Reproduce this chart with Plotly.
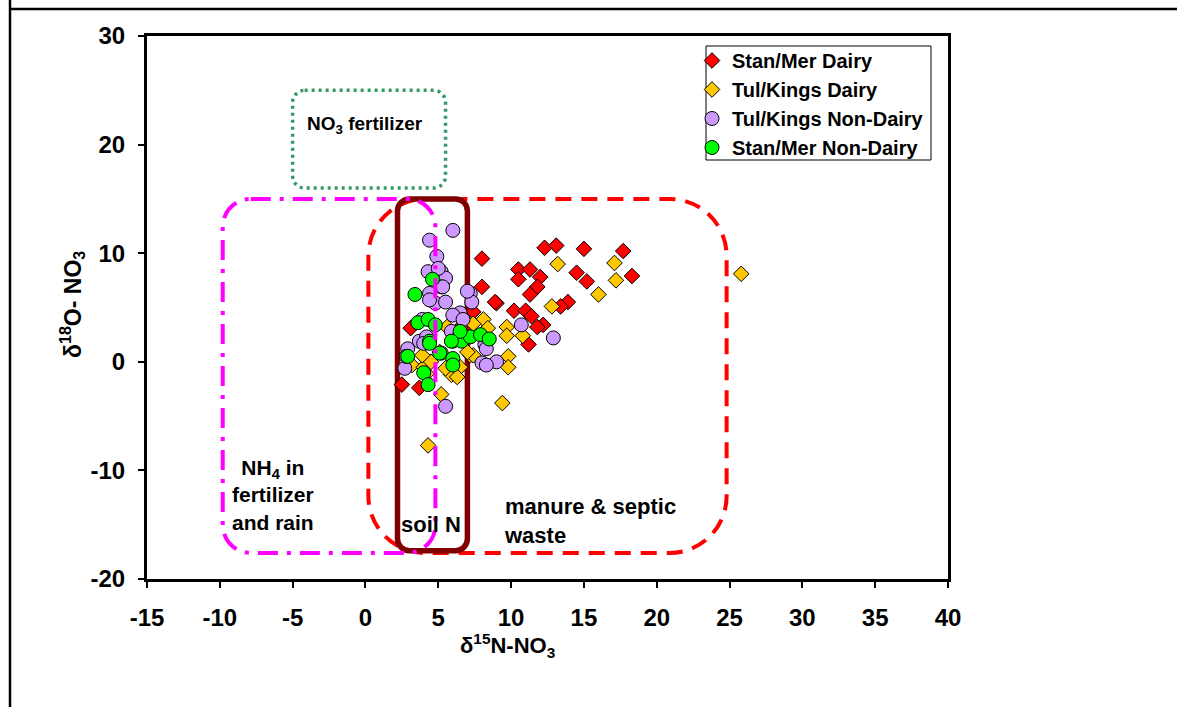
import plotly.graph_objects as go

# ---------------- data ----------------
stan_mer_dairy_x = [8.0, 12.3, 13.1, 15.0, 17.7, 10.5, 11.3, 12.0, 10.5, 14.5, 15.2, 18.3, 8.0, 11.8, 11.3,
                    9.0, 8.9, 13.9, 13.4, 10.2, 11.0, 11.4, 12.2, 11.8, 11.2, 3.1, 2.5, 3.7, 7.2, 7.4, 6.6]
stan_mer_dairy_y = [9.5, 10.5, 10.7, 10.4, 10.2, 8.5, 8.5, 7.8, 7.6, 8.2, 7.4, 7.9, 6.9, 6.9, 6.2,
                    5.4, 5.5, 5.5, 5.1, 4.7, 4.7, 4.2, 3.4, 3.2, 1.6, 3.1, -2.1, -2.4, 2.9, 4.6, 3.3]

tul_kings_dairy_x = [13.2, 17.1, 17.2, 16.0, 25.8, 12.8, 8.1, 9.7, 9.7, 10.8, 8.4, 9.8, 9.8, 9.4, 7.2, 4.3,
                     5.2, 5.9, 3.2, 4.0, 4.5, 7.4, 7.4, 6.5, 6.3, 3.9, 5.6, 7.0, 4.2, 5.5, 5.1]
tul_kings_dairy_y = [9.0, 9.1, 7.5, 6.2, 8.1, 5.1, 3.9, 3.2, 2.4, 2.4, 3.1, 0.5, -0.5, -3.8, 0.6, -7.7,
                     -3.0, -1.2, -0.3, -0.5, 0.0, 0.6, 3.5, -0.5, -1.4, 0.6, 3.2, 0.9, -1.1, -0.6, 0.9]

tul_kings_nondairy_x = [6.0, 4.4, 4.9, 4.3, 5.2, 5.5, 5.2, 4.4, 4.8, 5.5, 6.5, 6.0, 7.2, 7.3, 3.7, 4.2, 2.9, 8.2,
                        8.0, 9.0, 2.7, 5.5, 10.7, 12.9, 5.3, 7.0, 4.4, 5.0, 8.3, 8.3, 6.5, 6.7, 5.9, 3.9, 4.0, 2.8]
tul_kings_nondairy_y = [12.1, 11.2, 9.7, 8.3, 8.3, 7.7, 6.9, 6.3, 5.4, 5.5, 4.5, 4.3, 6.3, 5.5, 1.9, 2.3, 1.2, 1.6,
                        -0.1, 0.0, -0.6, -4.1, 3.4, 2.2, 6.9, 6.5, 5.7, 8.6, 1.2, -0.3, 2.3, 3.9, 2.8, 3.9, 1.7, 0.5]

stan_mer_nondairy_x = [4.6, 3.4, 3.6, 4.3, 4.8, 4.4, 5.2, 6.0, 6.6, 7.2, 7.9, 8.5, 6.0, 6.0, 2.9, 4.0, 4.3,
                       6.5, 4.4, 5.1, 5.9]
stan_mer_nondairy_y = [7.6, 6.2, 3.6, 3.9, 3.4, 1.9, 0.8, 1.9, 1.9, 2.3, 2.5, 2.1, 0.3, -0.3, 0.5, -1.0, -2.1,
                       2.8, 1.7, 0.8, 1.9]

x_ticks = [-15, -10, -5, 0, 5, 10, 15, 20, 25, 30, 35, 40]
y_ticks = [-20, -10, 0, 10, 20, 30]

# ---------------- layout geometry ----------------
W, H = 1177, 707
ML, MR, MT, MB = 147, 229, 36, 128
PW, PH = W - ML - MR, H - MT - MB
XR, YR = (-15, 40), (-20, 30)
SX = PW / (XR[1] - XR[0])
SY = PH / (YR[1] - YR[0])

FONT = "Liberation Sans, Arial, sans-serif"


def px_x(p):
    return (p - ML) / PW


def px_y(p):
    return 1 - (p - MT) / PH


def rrect(x0, x1, y0, y1, r_px):
    rx, ry = r_px / SX, r_px / SY
    k = 0.5523
    p = []
    p.append(f"M {x0 + rx},{y1}")
    p.append(f"L {x1 - rx},{y1}")
    p.append(f"C {x1 - rx + k * rx},{y1} {x1},{y1 - ry + k * ry} {x1},{y1 - ry}")
    p.append(f"L {x1},{y0 + ry}")
    p.append(f"C {x1},{y0 + ry - k * ry} {x1 - rx + k * rx},{y0} {x1 - rx},{y0}")
    p.append(f"L {x0 + rx},{y0}")
    p.append(f"C {x0 + rx - k * rx},{y0} {x0},{y0 + ry - k * ry} {x0},{y0 + ry}")
    p.append(f"L {x0},{y1 - ry}")
    p.append(f"C {x0},{y1 - ry + k * ry} {x0 + rx - k * rx},{y1} {x0 + rx},{y1}")
    p.append("Z")
    return " ".join(p)


fig = go.Figure()

series = [
    ("Stan/Mer Dairy", stan_mer_dairy_x, stan_mer_dairy_y, "diamond", "#FF0000", 12),
    ("Tul/Kings Dairy", tul_kings_dairy_x, tul_kings_dairy_y, "diamond", "#FFC800", 12),
    ("Tul/Kings Non-Dairy", tul_kings_nondairy_x, tul_kings_nondairy_y, "circle", "#CC99FF", 14),
    ("Stan/Mer Non-Dairy", stan_mer_nondairy_x, stan_mer_nondairy_y, "circle", "#00FF00", 14),
]
for name, xs, ys, sym, col, sz in series:
    fig.add_trace(go.Scatter(
        x=xs, y=ys, mode="markers", name=name, legendgroup=name,
        marker=dict(symbol=sym, color=col, size=sz, line=dict(color="black", width=1)),
    ))

shapes = [
    # NO3 fertilizer (green dotted)
    dict(type="path", path=rrect(-5.0, 5.5, 16.0, 25.0, 12), layer="below",
         line=dict(color="#339966", width=3.5, dash="3px,4px")),
    # manure & septic (red dashed)
    dict(type="path", path=rrect(0.2, 24.8, -17.6, 15.0, 57), layer="below",
         line=dict(color="#FF0000", width=4, dash="16px,10px")),
    # soil N (maroon)
    dict(type="path", path=rrect(2.2, 7.0, -17.4, 15.0, 12), layer="below",
         line=dict(color="#800000", width=5.5)),
    # NH4 (magenta dash-dot)
    dict(type="path", path=rrect(-9.8, 4.8, -17.6, 15.0, 28), layer="above",
         line=dict(color="#FF00FF", width=4, dash="20px,9px,4px,9px")),
    # legend frame
    dict(type="rect", xref="paper", yref="paper", layer="above",
         x0=px_x(706), x1=px_x(931), y0=px_y(160), y1=px_y(46),
         line=dict(color="black", width=1), fillcolor="rgba(0,0,0,0)"),
    # page borders
    dict(type="line", xref="paper", yref="paper",
         x0=px_x(10), x1=px_x(W), y0=px_y(9), y1=px_y(9),
         line=dict(color="black", width=2.5)),
    dict(type="line", xref="paper", yref="paper",
         x0=px_x(10), x1=px_x(10), y0=px_y(0), y1=px_y(H),
         line=dict(color="black", width=2.5)),
]

annos = [
    dict(x=0.0, y=21.8, text="NO<sub>3</sub> fertilizer", showarrow=False,
         font=dict(size=19, color="black", family=FONT)),
    dict(x=-6.35, y=-12.3, text="NH<sub>4</sub> in<br>fertilizer<br>and rain", showarrow=False,
         align="center", font=dict(size=21, color="black", family=FONT)),
    dict(x=4.5, y=-15.0, text="soil N", showarrow=False,
         font=dict(size=22, color="black", family=FONT)),
    dict(x=9.4, y=-14.7, text="manure &amp; septic<br>waste", showarrow=False, xanchor="left",
         align="left", font=dict(size=22, color="black", family=FONT)),
    dict(xref="paper", yref="paper", x=px_x(507), y=px_y(645), xanchor="center", yanchor="middle",
         text="δ<sup>15</sup>N-NO<sub>3</sub>", showarrow=False,
         font=dict(size=22, color="black", family=FONT)),
    dict(xref="paper", yref="paper", x=px_x(72), y=px_y(305), xanchor="center", yanchor="middle",
         text="δ<sup>18</sup>O- NO<sub>3</sub>", showarrow=False, textangle=-90,
         font=dict(size=23, color="black", family=FONT)),
]
for a in annos:
    a["text"] = "<b>" + a["text"] + "</b>"

fig.update_layout(
    width=W, height=H,
    margin=dict(l=ML, r=MR, t=MT, b=MB, pad=0),
    paper_bgcolor="white", plot_bgcolor="white",
    font=dict(family=FONT, color="black"),
    shapes=shapes, annotations=annos,
    showlegend=True,
    legend=dict(
        x=px_x(692), y=px_y(41), xanchor="left", yanchor="top",
        bgcolor="rgba(0,0,0,0)", borderwidth=0,
        font=dict(size=20, family=FONT, color="black", weight="bold"),
        traceorder="grouped", tracegroupgap=0, itemwidth=30,
    ),
    xaxis=dict(range=list(XR), tickvals=x_ticks, ticktext=[str(v) for v in x_ticks],
               showgrid=False, zeroline=False, showline=True, linecolor="black", linewidth=3,
               mirror=True, ticks="outside", ticklen=6, tickwidth=1.5, tickcolor="black",
               ticklabelstandoff=9,
               tickfont=dict(size=24, family=FONT, color="black", weight="bold")),
    yaxis=dict(range=list(YR), tickvals=y_ticks, ticktext=[str(v) for v in y_ticks],
               showgrid=False, zeroline=False, showline=True, linecolor="black", linewidth=3,
               mirror=True, ticks="outside", ticklen=6, tickwidth=1.5, tickcolor="black",
               ticklabelstandoff=8,
               tickfont=dict(size=24, family=FONT, color="black", weight="bold")),
)

fig.write_html("out.html")
